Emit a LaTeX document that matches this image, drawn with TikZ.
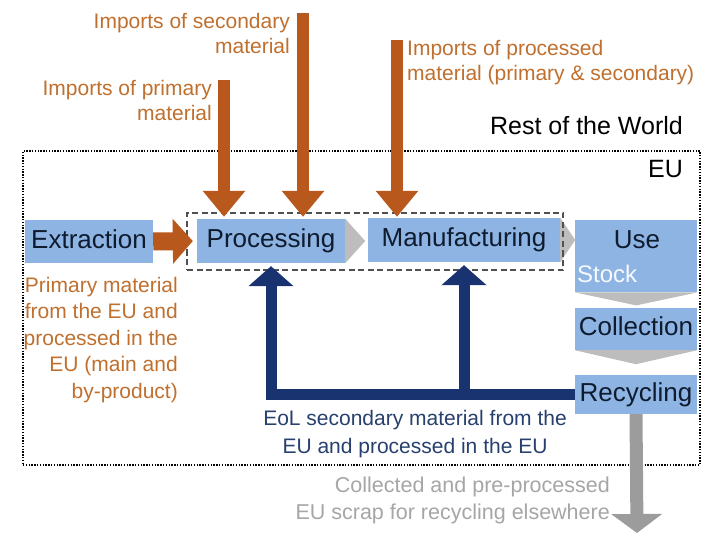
\documentclass[tikz,border=0pt]{standalone}
\usepackage{fontspec}
\setmainfont{Liberation Sans}
\usetikzlibrary{arrows.meta}
\definecolor{boxblue}{HTML}{8DB4E2}
\definecolor{boxtext}{HTML}{0F1B2E}
\definecolor{orangearr}{HTML}{B8581C}
\definecolor{orangetext}{HTML}{C0702E}
\definecolor{navyarr}{HTML}{183370}
\definecolor{navytext}{HTML}{28406E}
\definecolor{greytext}{HTML}{A6A6A6}
\definecolor{greyarr}{HTML}{9C9C9C}
\definecolor{chevgrey}{HTML}{BDBDBD}
\definecolor{dashgrey}{HTML}{505050}
\begin{document}
\begin{tikzpicture}[x=1pt,y=-1pt,
  stagebox/.style={fill=boxblue, draw=none, inner sep=0pt, text=boxtext,
    font=\fontsize{26}{30}\selectfont, text height=19pt, text depth=5.5pt},
  plainbox/.style={fill=boxblue, draw=none, inner sep=0pt},
  chev/.style={fill=chevgrey, draw=none},
  olab/.style={text=orangetext, inner sep=0pt, font=\fontsize{21}{25}\selectfont},
  olabb/.style={text=orangetext, inner sep=0pt, font=\fontsize{21}{26.5}\selectfont},
  blab/.style={text=navytext, inner sep=0pt, font=\fontsize{21}{28}\selectfont},
  glab/.style={text=greytext, inner sep=0pt, font=\fontsize{21.5}{27}\selectfont},
  worldlab/.style={text=black, inner sep=0pt, font=\fontsize{25}{30}\selectfont},
  oarrow/.style={draw=orangearr, line width=12pt, -{Triangle[width=41pt,length=26pt]}},
  oarrowbig/.style={draw=orangearr, line width=18pt, -{Triangle[width=44pt,length=20pt]}},
  narrow/.style={draw=navyarr, line width=11pt, line join=miter, -{Triangle[width=44pt,length=20pt]}},
  garrow/.style={draw=greyarr, line width=13pt, -{Triangle[width=50pt,length=19pt]}},
  eubox/.style={draw=black, line width=1.4pt, dash pattern=on 1.4pt off 1.4pt, inner sep=0pt},
  grpbox/.style={draw=dashgrey, line width=2.2pt, dash pattern=on 6pt off 3.5pt, inner sep=0pt}
]
\useasboundingbox (0,0) rectangle (708,534);
\fill[white] (0,0) rectangle (708,534);

% regions
\node[eubox, minimum width=677pt, minimum height=314pt] (eu) at (361.5,308) {};
\node[worldlab, anchor=base east] (row) at (683,135) {Rest of the World};
\node[worldlab, anchor=base east] (eulab) at (683,178) {EU};

% stages
\node[stagebox, minimum width=128pt, minimum height=43pt] (ext) at (89,241.5) {Extraction};
\node[stagebox, minimum width=148pt, minimum height=44pt] (proc) at (271,241) {Processing};
\node[stagebox, minimum width=192pt, minimum height=44pt] (manu) at (464,240) {Manufacturing};
\fill[chev] (proc.north east) -- ([xshift=20pt]proc.east) -- (proc.south east) -- cycle;
\fill[chev] (manu.north east) -- ([xshift=15pt]manu.east) -- (manu.south east) -- cycle;

\node[plainbox, minimum width=122pt, minimum height=72pt, anchor=north west] (use) at (575,220) {};
\node[text=boxtext, inner sep=0pt, font=\fontsize{26}{30}\selectfont, anchor=base] (uset) at (637,248) {Use};
\node[text=white!92!boxblue, inner sep=0pt, font=\fontsize{24}{28}\selectfont, anchor=base west] (stock) at (577,282) {Stock};
\fill[chev] (use.south west) -- (use.south east) -- ([yshift=-13pt]use.south) -- cycle;

\node[stagebox, minimum width=122pt, minimum height=42pt] (coll) at (636,329) {Collection};
\fill[chev] (coll.south west) -- (coll.south east) -- ([yshift=-14pt]coll.south) -- cycle;

\node[stagebox, minimum width=122pt, minimum height=39pt] (rec) at (636,394.5) {Recycling};

% dashed group
\node[grpbox, minimum width=376pt, minimum height=57pt] (grp) at (375,241.5) {};

% orange labels and arrows
\node[olab, align=right, anchor=north east] (lsec) at (290,13) {Imports of secondary\\material};
\node[olab, align=right, anchor=north east] (lprim) at (212,80) {Imports of primary\\material};
\node[olab, align=left, anchor=north west] (lproc) at (407,40) {Imports of processed\\material (primary \& secondary)};
\node[olabb, align=right, anchor=north east] (lpm) at (178,277) {Primary material\\from the EU and\\processed in the\\EU (main and\\by-product)};

\coordinate (ipt) at (224,80);
\coordinate (ist) at (303,13);
\coordinate (ipr) at (397,40);
\draw[oarrow, shorten >=2pt] (ipt) -- (ipt |- proc.north);
\draw[oarrow, shorten >=2pt] (ist) -- (ist |- proc.north);
\draw[oarrow, shorten >=1pt] (ipr) -- (ipr |- manu.north);
\draw[oarrowbig, shorten >=4pt] (ext.east) -- (proc.west);

% navy recycling loop
\draw[narrow, shorten >=3pt] (rec.west) -| (proc.south);
\draw[narrow, shorten >=3pt] (manu.south |- rec.west) -- (manu.south);
\node[blab, align=center, anchor=north] (leol) at (415,410) {EoL secondary material from the\\EU and processed in the EU};

% grey export
\coordinate (gend) at (637,533);
\draw[garrow] (rec.south) -- (gend);
\node[glab, align=right, anchor=north east] (lcol) at (610,477) {Collected and pre-processed\\EU scrap for recycling elsewhere};
\end{tikzpicture}
\end{document}
